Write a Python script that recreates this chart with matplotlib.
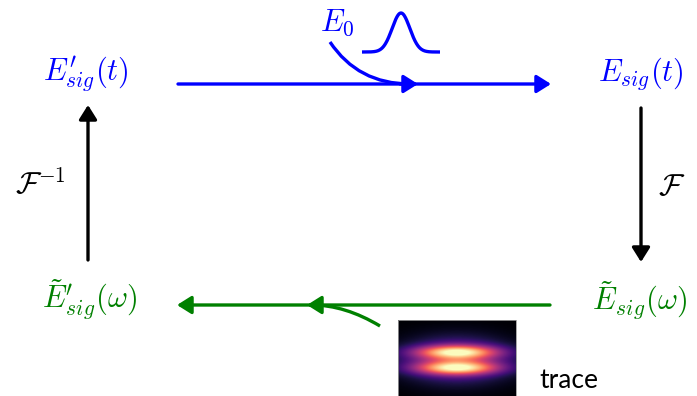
import numpy as np
import matplotlib
matplotlib.use("Agg")
import matplotlib.pyplot as plt
from matplotlib.patches import FancyArrowPatch, ArrowStyle, PathPatch
from matplotlib.path import Path

plt.rcParams["mathtext.fontset"] = "cm"

BLUE = "#0000ff"
GREEN = "#008000"

# node labels of the retrieval loop
labels_top = [r"$E_{sig}^{\prime}(t)$", r"$E_{sig}(t)$"]
labels_bottom = [r"$\tilde{E}_{sig}^{\prime}(\omega)$", r"$\tilde{E}_{sig}(\omega)$"]
transform_labels = [r"$\mathcal{F}^{-1}$", r"$\mathcal{F}$"]
pulse_label = r"$E_0$"
trace_label = "trace"

HEAD = ArrowStyle("-|>", head_length=8.6, head_width=5.4)


def arrow(ax, start, end, color, lw=2.4):
    ax.add_patch(FancyArrowPatch(start, end, arrowstyle=HEAD, color=color,
                                 lw=lw, shrinkA=0, shrinkB=0, zorder=3))


def curve(ax, p0, ctrl, p1, color, lw=2.4):
    path = Path([p0, ctrl, p1], [Path.MOVETO, Path.CURVE3, Path.CURVE3])
    ax.add_patch(PathPatch(path, fc="none", ec=color, lw=lw, capstyle="butt", zorder=3))


fig = plt.figure(figsize=(6.97, 3.96), dpi=100)
ax = fig.add_axes([0, 0, 1, 1])
ax.set_xlim(0, 697)
ax.set_ylim(396, 0)
ax.axis("off")

fs = 22
ax.text(86, 74, labels_top[0], color=BLUE, fontsize=fs, ha="center", va="center")
ax.text(641, 74, labels_top[1], color=BLUE, fontsize=fs, ha="center", va="center")
ax.text(90, 300, labels_bottom[0], color=GREEN, fontsize=fs, ha="center", va="center")
ax.text(640, 300, labels_bottom[1], color=GREEN, fontsize=fs, ha="center", va="center")
ax.text(40, 184, transform_labels[0], color="black", fontsize=fs, ha="center", va="center")
ax.text(672, 187, transform_labels[1], color="black", fontsize=fs, ha="center", va="center")
ax.text(337, 23, pulse_label, color=BLUE, fontsize=fs, ha="center", va="center")
ax.text(539, 381, trace_label, color="black", fontsize=19, ha="left", va="center",
        family=["Lato", "DejaVu Sans"])

# top: E0 merges into the signal path
arrow(ax, (178, 84), (551, 84), BLUE)
curve(ax, (330, 42), (358, 84), (410, 84), BLUE)
arrow(ax, (400, 84), (418, 84), BLUE)

# input pulse sketch
px = np.linspace(362, 440, 200)
py = 52 - 39 * np.exp(-((px - 401) / 12.5) ** 2)
ax.plot(px, py, color=BLUE, lw=2.4, solid_capstyle="butt")

# transforms
arrow(ax, (641, 108), (641, 262), "black")
arrow(ax, (88, 260), (88, 105), "black")

# bottom: trace constraint merges into the spectral path
arrow(ax, (550, 305), (177, 305), GREEN)
curve(ax, (380, 326), (345, 305), (312, 305), GREEN)
arrow(ax, (322, 305), (307, 305), GREEN)

# measured trace thumbnail
gx = np.linspace(-1, 1, 120)
gy = np.linspace(-1, 1, 80)
X, Y = np.meshgrid(gx, gy)
env = np.exp(-(X / 0.7) ** 2)
lobes = np.exp(-((Y + 0.2) / 0.17) ** 2) + np.exp(-((Y - 0.2) / 0.17) ** 2)
halo = np.exp(-(X / 0.9) ** 2 - (Y / 0.55) ** 2)
img = env * lobes * 0.7 + halo * 0.42
ax.imshow(img, cmap="magma", extent=(398, 516, 400, 320), aspect="auto",
          interpolation="bilinear", zorder=2, vmin=0, vmax=1.0)
ax.plot([398, 516, 516, 398, 398], [400, 400, 320, 320, 400], color="#999999", lw=0.6, zorder=2)

ax.set_xlim(0, 697)
ax.set_ylim(396, 0)
fig.savefig("out.png", dpi=100)
